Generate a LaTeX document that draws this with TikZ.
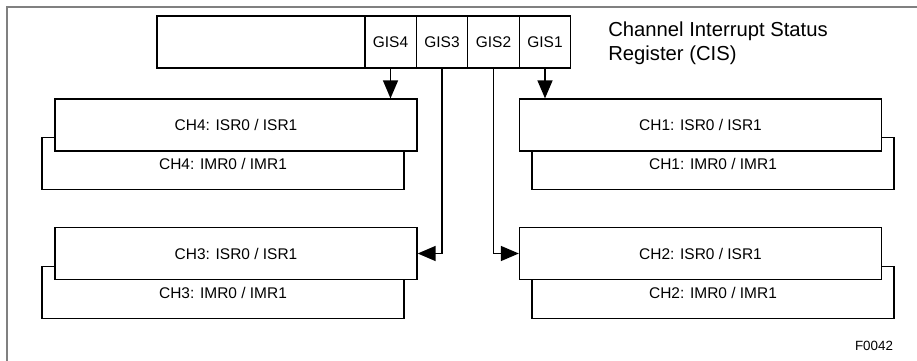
\documentclass[tikz,border=0pt]{standalone}
\usepackage{fontspec}
\setmainfont{Liberation Sans}
\usetikzlibrary{arrows.meta}

\begin{document}
\begin{tikzpicture}[x=0.025cm, y=-0.025cm,
    cell/.style={draw, line width=0.8pt, minimum height=1.3cm, inner sep=0pt, font=\fontsize{11}{13}\selectfont},
    chbox/.style={cell, fill=white, minimum width=9.05cm},
    sig/.style={line width=1.4pt, -{Triangle[length=0.45cm, width=0.37cm]}}]
    \useasboundingbox (0,0) rectangle (917,361);
    \draw[gray, line width=1.3pt] (7,361) -- (7,7) -- (917,7);
    
    % Register
    \node[cell, minimum width=5.2cm] (cis) at (261,42) {};
    \node[cell, minimum width=1.29cm] (gis4) at (390.5,42) {GIS4};
    \node[cell, minimum width=1.29cm] (gis3) at (442,42) {GIS3};
    \node[cell, minimum width=1.29cm] (gis2) at (493.5,42) {GIS2};
    \node[cell, minimum width=1.29cm] (gis1) at (545,42) {GIS1};
    \node[anchor=north west, align=left, inner sep=0pt, font=\fontsize{14.4}{17}\selectfont] (title) at (608,22) {Channel Interrupt Status\\Register (CIS)};
    
    % Channels
    \node[chbox] (imr4) at (223,163.5) {CH4: IMR0 / IMR1};
    \node[chbox] (isr4) at (236,125) {CH4: ISR0 / ISR1};
    \node[chbox] (imr3) at (223,292.5) {CH3: IMR0 / IMR1};
    \node[chbox] (isr3) at (236,253.5) {CH3: ISR0 / ISR1};
    \node[chbox] (imr1) at (713,163.5) {CH1: IMR0 / IMR1};
    \node[chbox] (isr1) at (700.5,125) {CH1: ISR0 / ISR1};
    \node[chbox] (imr2) at (713,292.5) {CH2: IMR0 / IMR1};
    \node[chbox] (isr2) at (700.5,253.5) {CH2: ISR0 / ISR1};
    
    % Arrows
    \draw[sig] (gis4.south) -- (gis4.south |- isr4.north);
    \draw[sig] (gis1.south) -- (gis1.south |- isr1.north);
    \draw[sig] (gis3.south) |- (isr3.east);
    \draw[sig] (gis2.south) |- (isr2.west);
    
    \node[font=\fontsize{9.5}{11}\selectfont] (fig) at (874,346) {F0042};
\end{tikzpicture}
\end{document}
